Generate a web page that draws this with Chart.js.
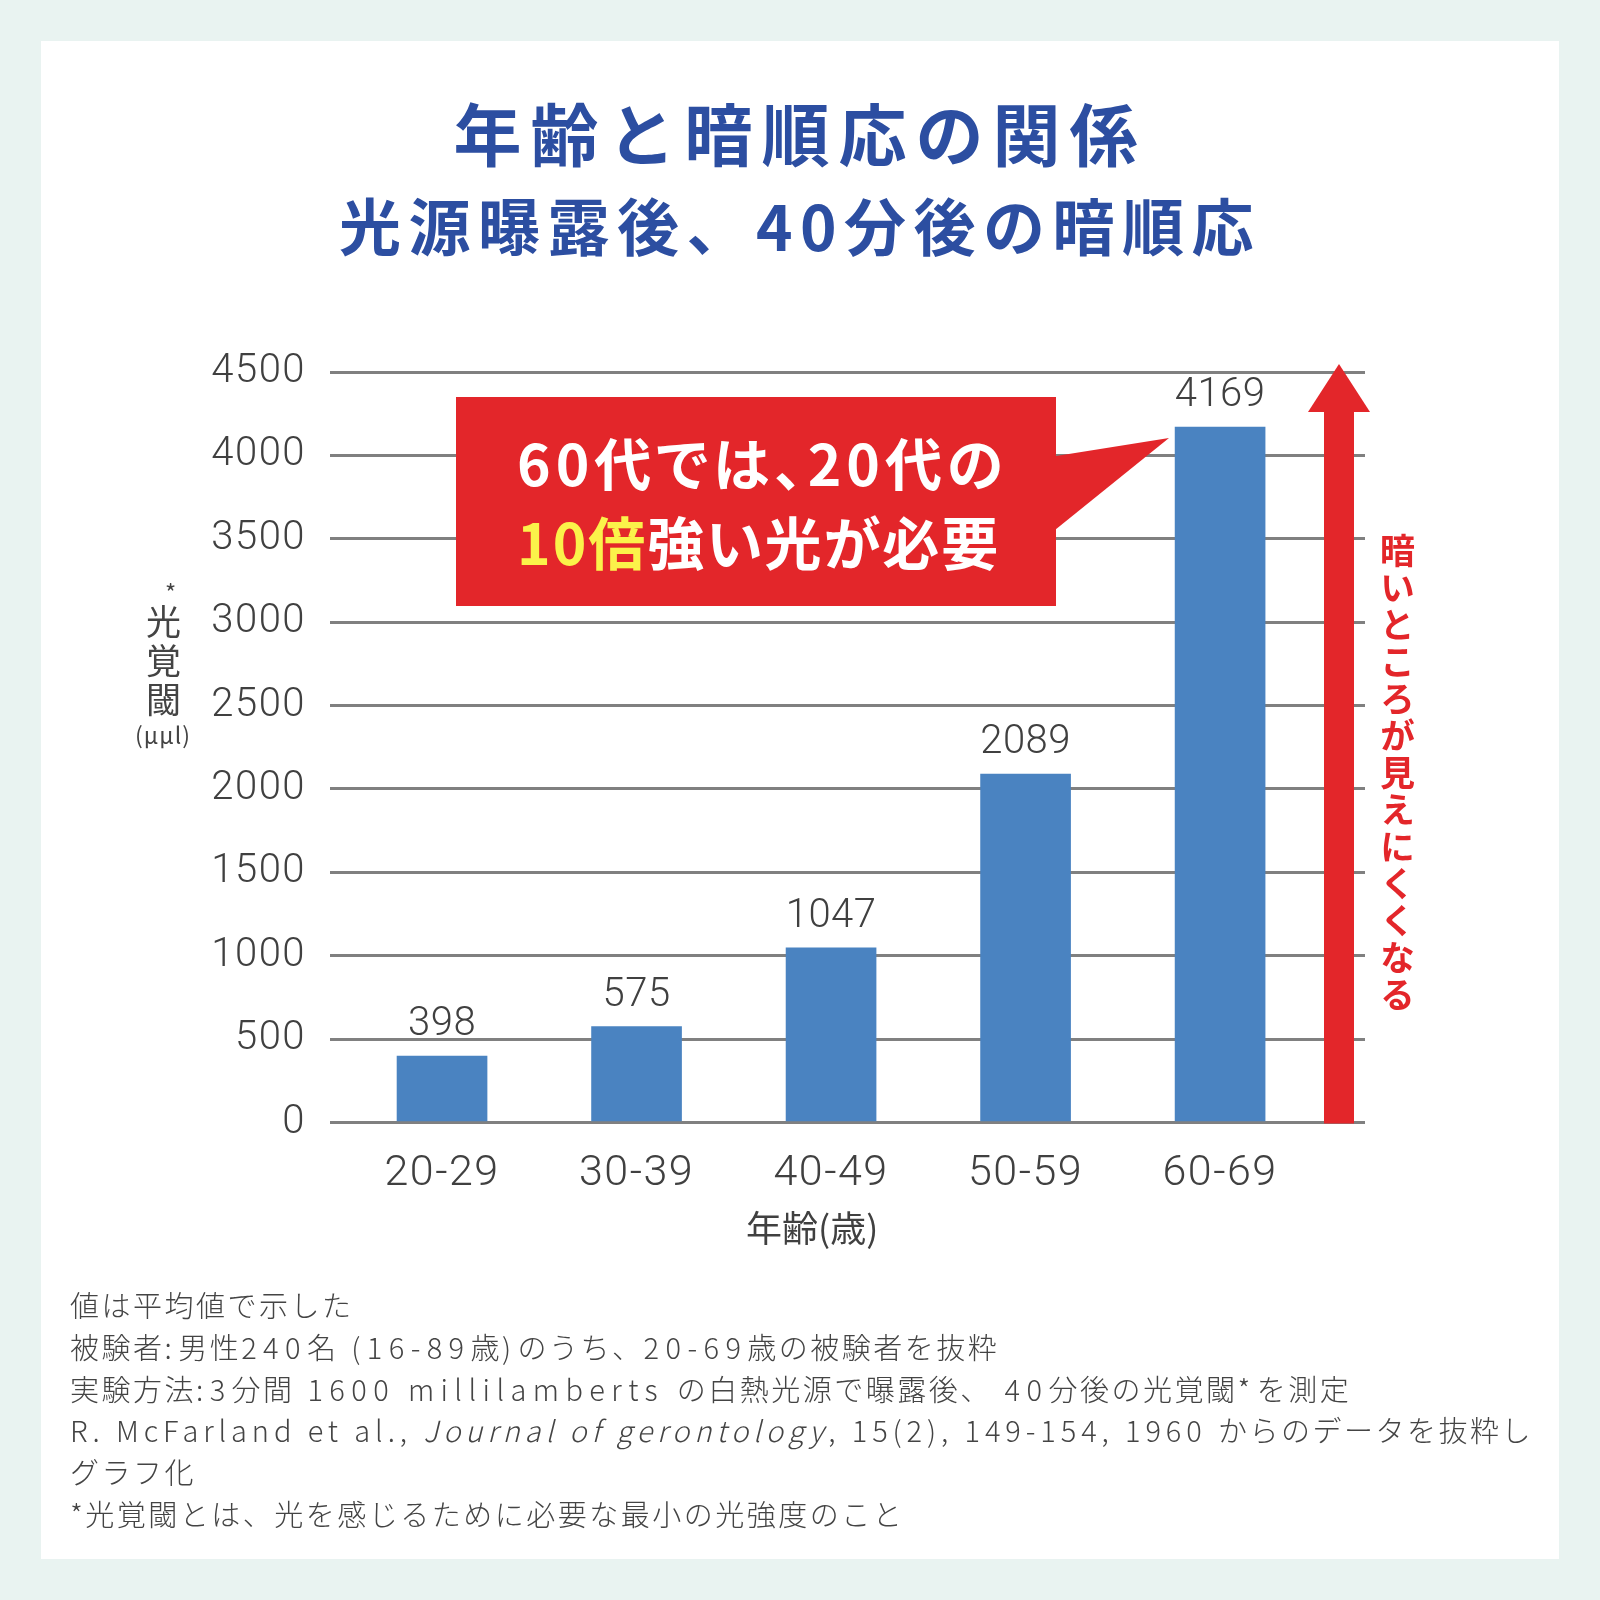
<!DOCTYPE html>
<html><head><meta charset="utf-8">
<script src="https://cdn.jsdelivr.net/npm/chart.js@4"></script>
<style>
body{margin:0;background:#e9f3f1;}
#wrap{position:relative;width:1600px;height:1600px;overflow:hidden;}
#panel{position:absolute;left:41px;top:41px;width:1518px;height:1518px;background:#fff;}
#c{position:absolute;left:0;top:0;}
.t{position:absolute;white-space:pre;font-family:"Noto Sans CJK JP",sans-serif;}
.title{color:#2c4ea1;font-weight:700;left:0;width:1600px;text-align:center;line-height:1;}
.callout{color:#fff;font-weight:700;font-size:57px;line-height:1;left:517px;font-feature-settings:"palt";letter-spacing:5px;}
.note{left:70px;top:1284px;font-size:29px;line-height:41.8px;color:#444;font-weight:300;letter-spacing:2.5px;}
.l{letter-spacing:6.4px;}
.l4{letter-spacing:4.9px;}
</style></head>
<body><div id="wrap">
<div id="panel"></div>
<canvas id="c" width="1600" height="1600"></canvas>
<div class="t title" style="top:98px;font-size:68px;letter-spacing:9px;">年齢と暗順応の関係</div>
<div class="t title" style="top:193px;font-size:62px;letter-spacing:7.5px;">光源曝露後、40分後の暗順応</div>
<div class="t callout" style="top:433px;">60代では、20代の</div>
<div class="t callout" style="top:512px;letter-spacing:2px;"><span style="color:#fbf24a">10倍</span>強い光が必要</div>
<div class="t" style="left:1380px;top:533px;writing-mode:vertical-rl;font-size:35px;line-height:35px;letter-spacing:2px;color:#e3262a;font-weight:700;">暗いところが見えにくくなる</div>
<div class="t" style="left:146px;top:604px;writing-mode:vertical-rl;font-size:35px;line-height:35px;letter-spacing:4px;color:#444;">光覚閾</div>
<div class="t" style="left:165px;top:580px;font-size:24px;line-height:24px;color:#444;">*</div>
<div class="t" style="left:135px;top:723px;font-size:23px;line-height:23px;color:#444;letter-spacing:1px;">(μμl)</div>
<div class="t" style="left:746px;top:1208px;font-size:36px;line-height:36px;color:#404040;">年齢(歳)</div>
<div class="t note">値は平均値で示した
被験者<span class="l">:</span>男性<span class="l">240</span>名<span class="l"> (16-89</span>歳<span class="l">)</span>のうち、<span class="l">20-69</span>歳の被験者を抜粋
実験方法<span class="l">:3</span>分間<span class="l"> 1600 millilamberts </span>の白熱光源で曝露後、<span class="l"> 40</span>分後の光覚閾<span class="l">*</span>を測定
<span class="l4">R. McFarland et al., <i>Journal of gerontology</i>, 15(2), 149-154, 1960 </span>からのデータを抜粋し
グラフ化
*光覚閾とは、光を感じるために必要な最小の光強度のこと</div>
</div>
<script>
const categories = ['20-29','30-39','40-49','50-59','60-69'];
const values = [398, 575, 1047, 2089, 4169];
const yMin = 0, yMax = 4500, yStep = 500;

const RED = '#e3262a';
const deco = {
  id:'deco',
  beforeDraw(chart){ chart.ctx.letterSpacing = '1.5px'; },
  afterDatasetsDraw(chart){
    const ctx = chart.ctx, y = chart.scales.y;
    const meta = chart.getDatasetMeta(0);
    ctx.save();
    ctx.letterSpacing = '0.5px';
    ctx.font = '300 40px Roboto';
    ctx.fillStyle = '#404040';
    ctx.textAlign = 'center';
    ctx.textBaseline = 'alphabetic';
    meta.data.forEach((bar,i)=>{
      ctx.fillText(String(values[i]), bar.x, bar.y - 21);
    });
    // callout box + tail
    ctx.fillStyle = RED;
    ctx.fillRect(456, 397, 600, 209);
    ctx.beginPath();
    ctx.moveTo(1050, 457); ctx.lineTo(1169, 438); ctx.lineTo(1050, 534); ctx.closePath();
    ctx.fill();
    // arrow
    const base = y.getPixelForValue(0);
    ctx.fillRect(1324, 410, 30, base + 1 - 410);
    ctx.beginPath();
    ctx.moveTo(1308, 412); ctx.lineTo(1339, 364); ctx.lineTo(1370, 412); ctx.closePath();
    ctx.fill();
    ctx.restore();
  },
  afterDraw(chart){ chart.ctx.letterSpacing = '0px'; }
};

new Chart(document.getElementById('c'), {
  type:'bar',
  data:{ datasets:[{
    data: values.map((v,i)=>({x:i, y:v})),
    backgroundColor:'#4a83c1',
    barThickness:90,
    borderWidth:0
  }]},
  options:{
    responsive:false, animation:false, devicePixelRatio:1,
    layout:{padding:{left:200, right:235, top:372, bottom:377.5}},
    plugins:{legend:{display:false}, tooltip:{enabled:false}},
    scales:{
      x:{
        type:'linear', min:-0.576, max:4.745, offset:false,
        grid:{display:false}, border:{display:false},
        afterBuildTicks:s=>{ s.ticks = categories.map((c,i)=>({value:i})); },
        afterFit:s=>{ s.height = 100; },
        ticks:{autoSkip:false, maxRotation:0, padding:18, color:'#404040',
          font:{family:'Roboto', weight:'300', size:43},
          callback:v=>categories[v]}
      },
      y:{
        min:yMin, max:yMax,
        afterFit:s=>{ s.width = 130; },
        border:{display:false},
        grid:{color:'#808080', lineWidth:3, drawTicks:false},
        ticks:{stepSize:yStep, padding:24, color:'#404040',
          font:{family:'Roboto', weight:'300', size:40},
          callback:v=>String(v)}
      }
    }
  },
  plugins:[deco]
});
</script>
</body></html>
